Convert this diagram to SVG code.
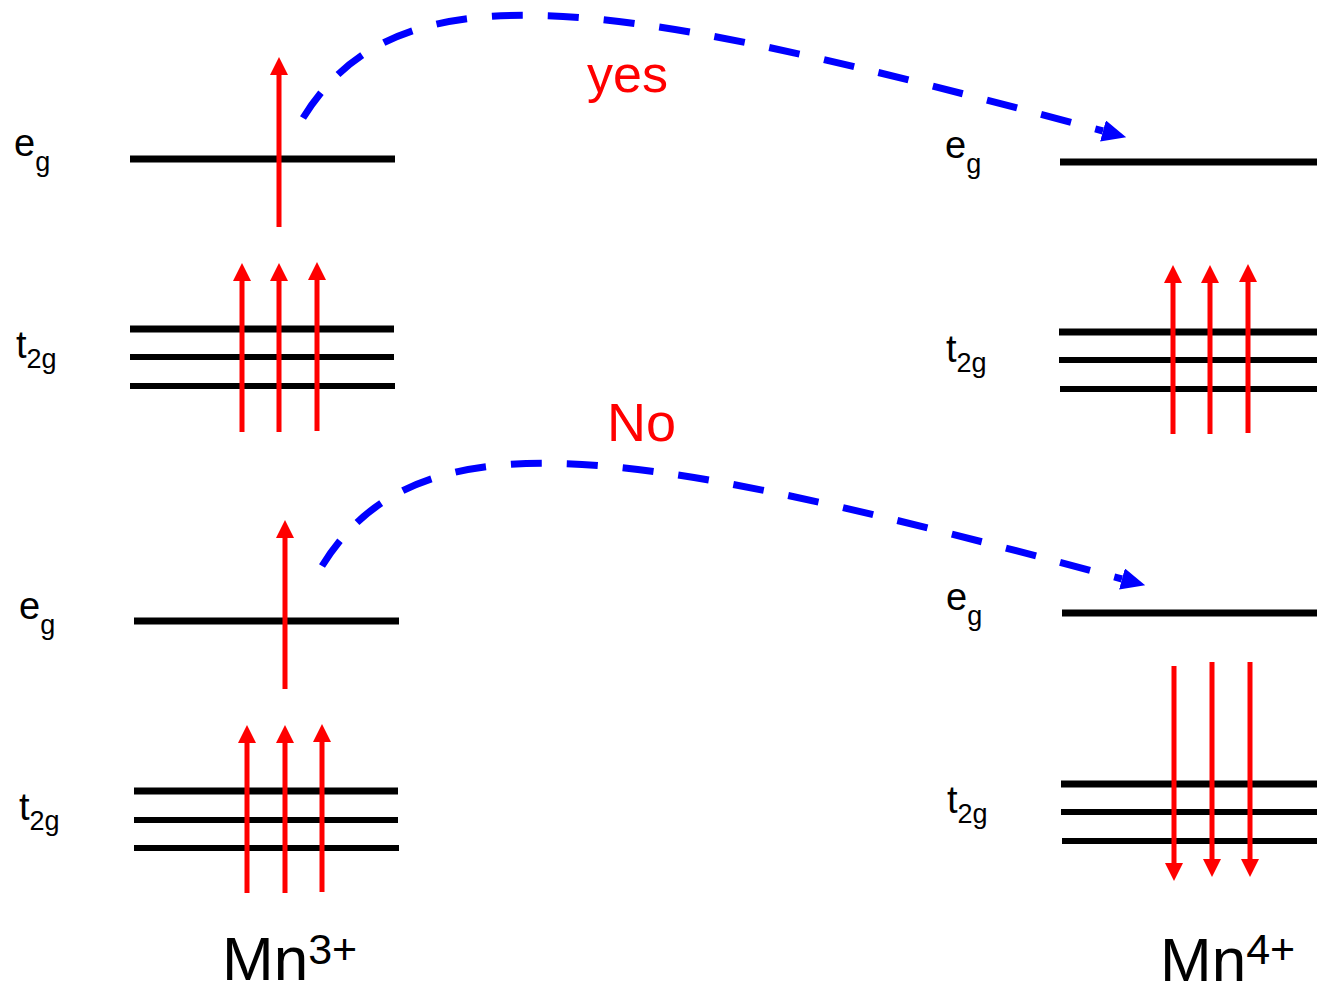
<svg xmlns="http://www.w3.org/2000/svg" width="1317" height="995" viewBox="0 0 1317 995">
<style>
.lvl{stroke:#000;stroke-width:6;fill:none}
.lvl1{stroke:#000;stroke-width:7;fill:none}
.spin{stroke:#ff0000;stroke-width:5;fill:none;marker-end:url(#rh)}
.hop{stroke:#0000ff;stroke-width:7;fill:none;stroke-dasharray:31 25;marker-end:url(#bh)}
.lab{font-family:"Liberation Sans",Arial,sans-serif;font-size:38px;fill:#000}
.sub{font-size:27px}
.ion{font-family:"Liberation Sans",Arial,sans-serif;font-size:62px;fill:#000}
.sup{font-size:43px}
.note{font-family:"Liberation Sans",Arial,sans-serif;fill:#ff0000}
</style>
<defs>
<marker id="rh" markerUnits="userSpaceOnUse" markerWidth="18" markerHeight="18" refX="0" refY="9" orient="auto" viewBox="0 0 18 18">
<path d="M0,0 L18,9 L0,18 z" fill="#ff0000"/>
</marker>
<marker id="bh" markerUnits="userSpaceOnUse" markerWidth="24" markerHeight="22" refX="0" refY="11" orient="auto" viewBox="0 0 24 22">
<path d="M0,0 L24,11 L0,22 z" fill="#0000ff"/>
</marker>
</defs>
<rect width="1317" height="995" fill="#fff"/>

<g id="mn3-top">
<line class="lvl1" x1="130" y1="159" x2="395" y2="159"/>
<line class="lvl1" x1="130" y1="329" x2="394" y2="329"/>
<line class="lvl" x1="130" y1="357" x2="394" y2="357"/>
<line class="lvl" x1="130" y1="386" x2="395" y2="386"/>
<line class="spin" x1="279" y1="227" x2="279" y2="75"/>
<line class="spin" x1="242" y1="432" x2="242" y2="281"/>
<line class="spin" x1="279" y1="432" x2="279" y2="281"/>
<line class="spin" x1="317" y1="431" x2="317" y2="280"/>
<text class="lab" x="14" y="156">e<tspan class="sub" dy="15">g</tspan></text>
<text class="lab" x="16" y="358">t<tspan class="sub" dy="10">2g</tspan></text>
</g>

<g id="mn4-top">
<line class="lvl1" x1="1060" y1="162" x2="1317" y2="162"/>
<line class="lvl1" x1="1059" y1="332" x2="1317" y2="332"/>
<line class="lvl" x1="1059" y1="360" x2="1317" y2="360"/>
<line class="lvl" x1="1060" y1="389" x2="1317" y2="389"/>
<line class="spin" x1="1173" y1="434" x2="1173" y2="283"/>
<line class="spin" x1="1210" y1="434" x2="1210" y2="283"/>
<line class="spin" x1="1248" y1="433" x2="1248" y2="282"/>
<text class="lab" x="945" y="158">e<tspan class="sub" dy="15">g</tspan></text>
<text class="lab" x="946" y="362">t<tspan class="sub" dy="10">2g</tspan></text>
</g>

<g id="mn3-bottom">
<line class="lvl1" x1="134" y1="621" x2="399" y2="621"/>
<line class="lvl1" x1="134" y1="791" x2="398" y2="791"/>
<line class="lvl" x1="134" y1="820" x2="398" y2="820"/>
<line class="lvl" x1="134" y1="848" x2="399" y2="848"/>
<line class="spin" x1="285" y1="689" x2="285" y2="538"/>
<line class="spin" x1="247" y1="893" x2="247" y2="743"/>
<line class="spin" x1="285" y1="893" x2="285" y2="743"/>
<line class="spin" x1="322" y1="892" x2="322" y2="742"/>
<text class="lab" x="19" y="619">e<tspan class="sub" dy="15">g</tspan></text>
<text class="lab" x="19" y="820">t<tspan class="sub" dy="10">2g</tspan></text>
</g>

<g id="mn4-bottom">
<line class="lvl1" x1="1062" y1="613" x2="1317" y2="613"/>
<line class="lvl1" x1="1061" y1="784" x2="1317" y2="784"/>
<line class="lvl" x1="1061" y1="812" x2="1317" y2="812"/>
<line class="lvl" x1="1062" y1="841" x2="1317" y2="841"/>
<line class="spin" x1="1174" y1="666" x2="1174" y2="863"/>
<line class="spin" x1="1212" y1="662" x2="1212" y2="859"/>
<line class="spin" x1="1250" y1="662" x2="1250" y2="859"/>
<text class="lab" x="946" y="610">e<tspan class="sub" dy="15">g</tspan></text>
<text class="lab" x="947" y="813">t<tspan class="sub" dy="10">2g</tspan></text>
</g>

<g id="connectors">
<path class="hop" d="M303,118 C400,-40 620,0 1103,131"/>
<path class="hop" d="M322,566 C419,408 639,448 1122,579"/>
</g>

<g id="labels">
<text class="note" x="587" y="92" font-size="52">yes</text>
<text class="note" x="607" y="441" font-size="54">No</text>
<text class="ion" x="222" y="980">Mn<tspan class="sup" dy="-16">3+</tspan></text>
<text class="ion" x="1160" y="981">Mn<tspan class="sup" dy="-17">4+</tspan></text>
</g>
</svg>
